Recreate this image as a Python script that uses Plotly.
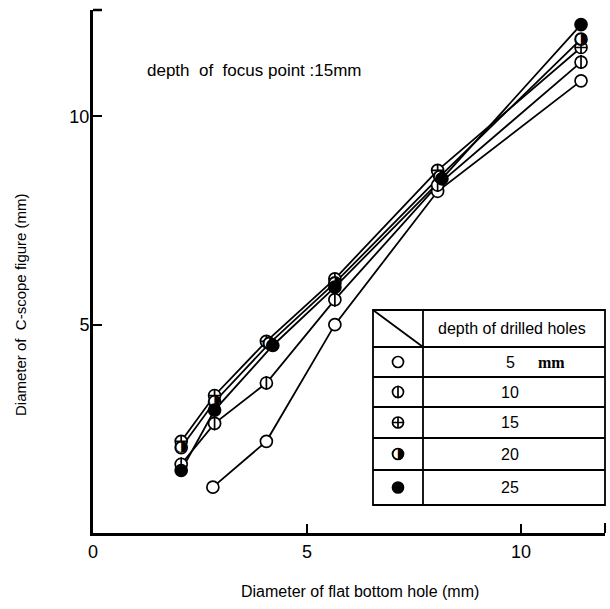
import plotly.graph_objects as go

# ---------------- data ----------------
depth_labels = ["5", "10", "15", "20", "25"]

x_5 = [2.80, 4.05, 5.65, 8.05, 11.40]
y_5 = [1.10, 2.20, 5.00, 8.20, 10.85]

x_10 = [2.06, 2.84, 4.05, 5.65, 8.05, 11.40]
y_10 = [1.65, 2.63, 3.60, 5.60, 8.35, 11.30]

x_15 = [2.06, 2.84, 4.05, 5.65, 8.05, 11.40]
y_15 = [2.20, 3.30, 4.60, 6.10, 8.70, 11.65]

x_20 = [2.06, 2.84, 4.12, 5.65, 8.10, 11.40]
y_20 = [2.05, 3.15, 4.55, 6.00, 8.55, 11.85]

x_25 = [2.06, 2.84, 4.20, 5.65, 8.15, 11.40]
y_25 = [1.50, 2.95, 4.50, 5.90, 8.50, 12.20]

x_ticks = [0, 5, 10, 11.96]
x_ticktext = ["0", "5", "10", ""]
y_ticks = [5, 10, 12.55]
y_ticktext = ["5", "10", ""]

series_x = [x_5, x_10, x_15, x_20, x_25]
series_y = [y_5, y_10, y_15, y_20, y_25]

# ---------------- figure ----------------
W, H = 610, 609
L, R, T, B = 93, 5, 10, 76
PW, PH = W - L - R, H - T - B

def px(x):
    return (x - L) / PW

def py(y):
    return (H - B - y) / PH

FONT = "Liberation Sans, Arial, sans-serif"

fig = go.Figure()

# lines first
for xs, ys in zip(series_x, series_y):
    fig.add_trace(go.Scatter(x=xs, y=ys, mode="lines",
                             line=dict(color="black", width=1.8),
                             showlegend=False, hoverinfo="skip"))

MS = 12
MLINE = dict(color="black", width=1.7)

def add_markers(xs, ys, idx, xa="x", ya="y", size=MS):
    if idx in (0, 1):
        fig.add_trace(go.Scatter(x=xs, y=ys, mode="markers", xaxis=xa, yaxis=ya,
                                 marker=dict(symbol="circle", size=size, color="white", line=MLINE),
                                 showlegend=False, hoverinfo="skip"))
        if idx == 1:
            fig.add_trace(go.Scatter(x=xs, y=ys, mode="markers", xaxis=xa, yaxis=ya,
                                     marker=dict(symbol="line-ns", size=size - 2, color="black",
                                                 line=dict(color="black", width=1.7)),
                                     showlegend=False, hoverinfo="skip"))
    elif idx == 2:
        fig.add_trace(go.Scatter(x=xs, y=ys, mode="markers", xaxis=xa, yaxis=ya,
                                 marker=dict(symbol="circle-cross", size=size, color="white", line=MLINE),
                                 showlegend=False, hoverinfo="skip"))
    elif idx == 3:
        fig.add_trace(go.Scatter(x=xs, y=ys, mode="markers+text", xaxis=xa, yaxis=ya,
                                 marker=dict(symbol="circle", size=size, color="white", line=MLINE),
                                 text=["\u25D1"] * len(xs), textposition="middle center",
                                 textfont=dict(family="DejaVu Sans", size=15, color="black"),
                                 showlegend=False, hoverinfo="skip"))
    else:
        fig.add_trace(go.Scatter(x=xs, y=ys, mode="markers", xaxis=xa, yaxis=ya,
                                 marker=dict(symbol="circle", size=size, color="black", line=MLINE),
                                 showlegend=False, hoverinfo="skip"))

for i, (xs, ys) in enumerate(zip(series_x, series_y)):
    add_markers(xs, ys, i)

# ---------------- legend table (pixel layout) ----------------
t_left, t_mid, t_right = 373, 423, 605
row_lines = [310, 347, 377, 407, 438, 470, 505]
sym_x = (t_left + t_mid) / 2
row_centers = [(row_lines[i] + row_lines[i + 1]) / 2 for i in range(1, 6)]

shapes = []
LW = 1.8
shapes.append(dict(type="rect", xref="paper", yref="paper",
                   x0=px(t_left), x1=px(t_right), y0=py(row_lines[-1]), y1=py(row_lines[0]),
                   line=dict(color="black", width=LW), layer="above"))
for yl in row_lines[1:-1]:
    shapes.append(dict(type="line", xref="paper", yref="paper",
                       x0=px(t_left), x1=px(t_right), y0=py(yl), y1=py(yl),
                       line=dict(color="black", width=LW), layer="above"))
shapes.append(dict(type="line", xref="paper", yref="paper",
                   x0=px(t_mid), x1=px(t_mid), y0=py(row_lines[-1]), y1=py(row_lines[0]),
                   line=dict(color="black", width=LW), layer="above"))
shapes.append(dict(type="line", xref="paper", yref="paper",
                   x0=px(t_left), x1=px(t_mid), y0=py(row_lines[0]), y1=py(row_lines[1]),
                   line=dict(color="black", width=LW), layer="above"))
# axis end marks
shapes.append(dict(type="line", xref="paper", yref="paper",
                   x0=1, x1=1, y0=0, y1=py(H - B - 10),
                   line=dict(color="black", width=2)))
shapes.append(dict(type="line", xref="paper", yref="paper",
                   x0=0, x1=px(L + 9), y0=1, y1=1,
                   line=dict(color="black", width=2.5)))

# legend symbols on an overlay axis that maps to paper coordinates
for i in range(5):
    add_markers([px(sym_x)], [py(row_centers[i])], i, xa="x2", ya="y2", size=11)

def ann(text, x, y, size, family=FONT, angle=0, xanchor="center"):
    return dict(text=text, xref="paper", yref="paper", x=x, y=y, xanchor=xanchor,
                yanchor="middle", textangle=angle, showarrow=False,
                font=dict(family=family, size=size, color="black"))

annotations = [ann("depth of drilled holes", px(512), py((row_lines[0] + row_lines[1]) / 2), 16)]
for i, lab in enumerate(depth_labels):
    annotations.append(ann(lab, px(510), py(row_centers[i]), 16))
annotations.append(ann("<b>mm</b>", px(551), py(row_centers[0]), 16, family="Liberation Serif"))
annotations.append(ann("depth  of  focus point :15mm", px(145), py(71), 17, xanchor="left"))
annotations.append(ann("Diameter of  C-scope figure (mm)", px(20), py(305), 15, angle=-90))
annotations.append(ann("Diameter of flat bottom hole (mm)", px(360), py(592), 16))

axis_common = dict(showline=True, linecolor="black", linewidth=3, ticks="inside",
                   ticklen=9, tickwidth=2, tickcolor="black", showgrid=False, zeroline=False,
                   tickfont=dict(family=FONT, size=18, color="black"), mirror=False)

fig.update_layout(
    width=W, height=H,
    margin=dict(l=L, r=R, t=T, b=B),
    paper_bgcolor="white", plot_bgcolor="rgba(0,0,0,0)",
    xaxis=dict(range=[0, 11.96], tickmode="array", tickvals=x_ticks, ticktext=x_ticktext,
               ticklabelstandoff=0, **axis_common),
    yaxis=dict(range=[0, 12.55], tickmode="array", tickvals=y_ticks, ticktext=y_ticktext,
               ticklabelstandoff=-3, **axis_common),
    xaxis2=dict(domain=[0, 1], range=[0, 1], anchor="y2", visible=False, fixedrange=True),
    yaxis2=dict(domain=[0, 1], range=[0, 1], anchor="x2", visible=False, fixedrange=True),
    shapes=shapes,
    annotations=annotations,
    showlegend=False,
)

fig.write_html("out.html")
